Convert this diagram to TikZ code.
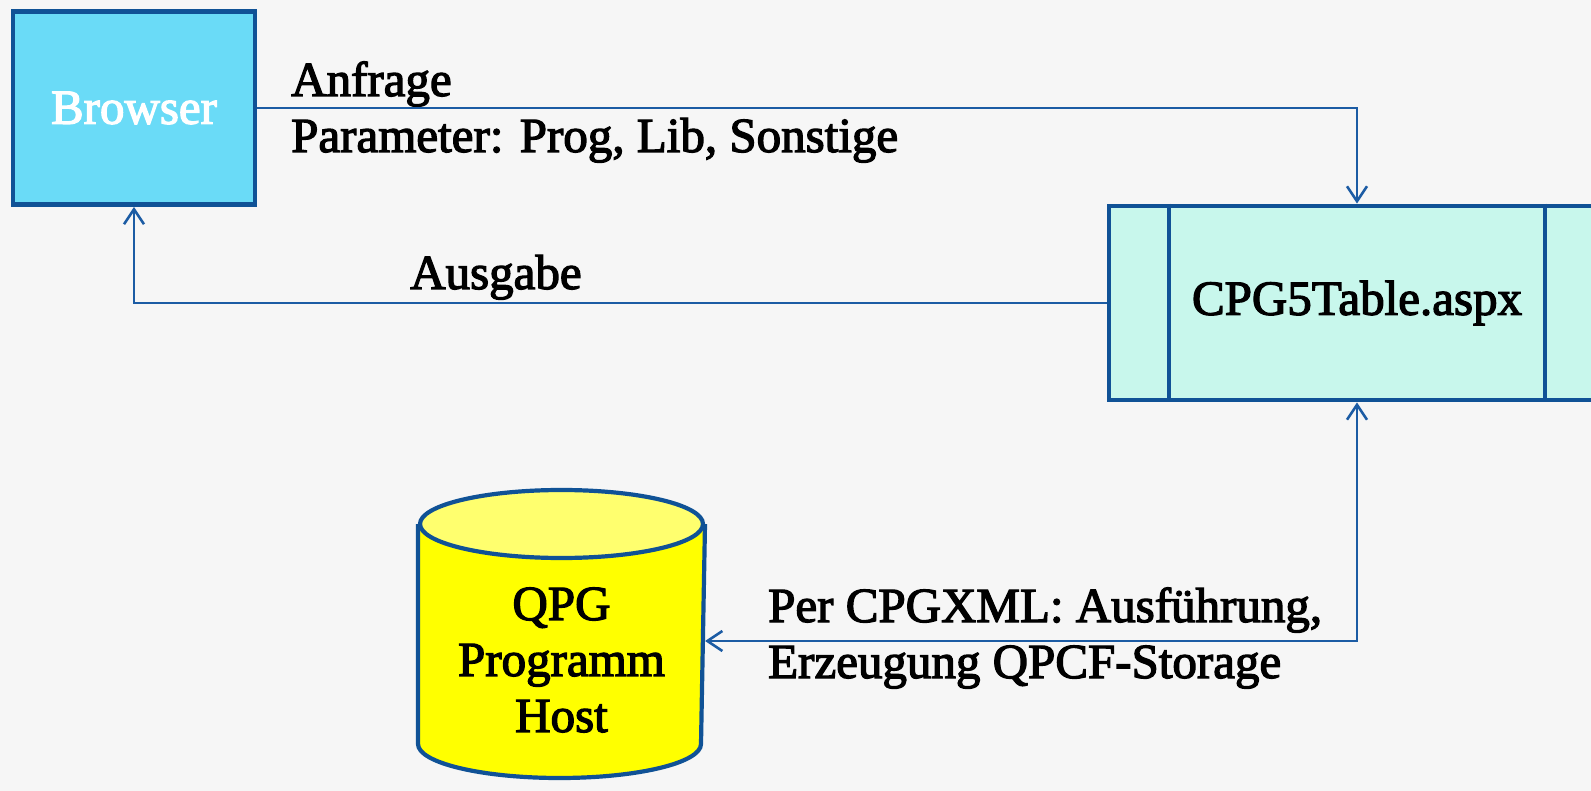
\documentclass[tikz,border=0pt]{standalone}
\usepackage{fontspec}
\setmainfont{Liberation Serif}[FakeBold=2.6]
\definecolor{mybg}{RGB}{246,246,246}
\definecolor{myblue}{RGB}{16,82,150}
\definecolor{myline}{RGB}{28,92,164}
\definecolor{mycyan}{RGB}{106,219,247}
\definecolor{mymint}{RGB}{200,247,236}
\definecolor{myyellow}{RGB}{255,255,0}
\definecolor{mylightyellow}{RGB}{255,255,110}
\usepackage{tikz}
\usetikzlibrary{arrows.meta,positioning}

\begin{document}
\begin{tikzpicture}[
  x=1pt, y=-1pt,
  font=\fontsize{49}{56}\selectfont,
  mybox/.style={
    draw=myblue,
    line width=4.8pt,
    rectangle,
    inner sep=0pt
    },
  mylabel/.style={anchor=base west, align=left, inner sep=0pt},
  myarrow/.style={
    draw=myline,
    line width=2.6pt,
    >={Straight Barb[length=15pt,width=20pt,line width=2.6pt]}
    }
]
\useasboundingbox (0,0) rectangle (1591,791);
\clip (0,0) rectangle (1591,791);
\fill[mybg] (0,0) rectangle (1591,791);

\node [mybox, fill=mycyan, text=white, minimum width=242pt, minimum height=193pt] (browser) at (134,108) {Browser};
\node [mybox, fill=mymint, minimum width=496pt, minimum height=194pt] (cpg) at (1357,303) {CPG5Table.aspx};
\draw [draw=myblue, line width=4pt] ([xshift=62pt]cpg.north west) -- ([xshift=62pt]cpg.south west)
  ([xshift=-62pt]cpg.north east) -- ([xshift=-62pt]cpg.south east);

\node [inner sep=0pt, outer sep=2pt, minimum width=283pt, minimum height=216pt] (qpg) at (561.5,634) {};
\path [fill=myyellow, draw=myblue, line width=4.2pt] (qpg.north west) -- (qpg.south west)
  arc [start angle=180, end angle=360, x radius=141.5pt, y radius=34pt] -- (qpg.north east);
\draw [fill=mylightyellow, draw=myblue, line width=4.2pt] (qpg.north) ellipse [x radius=141.5pt, y radius=34pt];
\node [align=center, inner sep=0pt] (qpgtext) at (561.5,660) {QPG\\Programm\\Host};

\node [mylabel] (anfrage) at (291,152) {Anfrage\\Parameter: Prog, Lib, Sonstige};
\node [mylabel] (ausgabe) at (410,289) {Ausgabe};
\node [mylabel] (perxml) at (768,678) {Per CPGXML: Ausführung,\\Erzeugung QPCF-Storage};

\draw [myarrow, ->] (browser.east) -| (cpg.north);
\draw [myarrow, ->] (cpg.west) -| (browser.south);
\draw [myarrow, <->] (cpg.south) |- ([yshift=-7pt]qpg.east);

\end{tikzpicture}
\end{document}
